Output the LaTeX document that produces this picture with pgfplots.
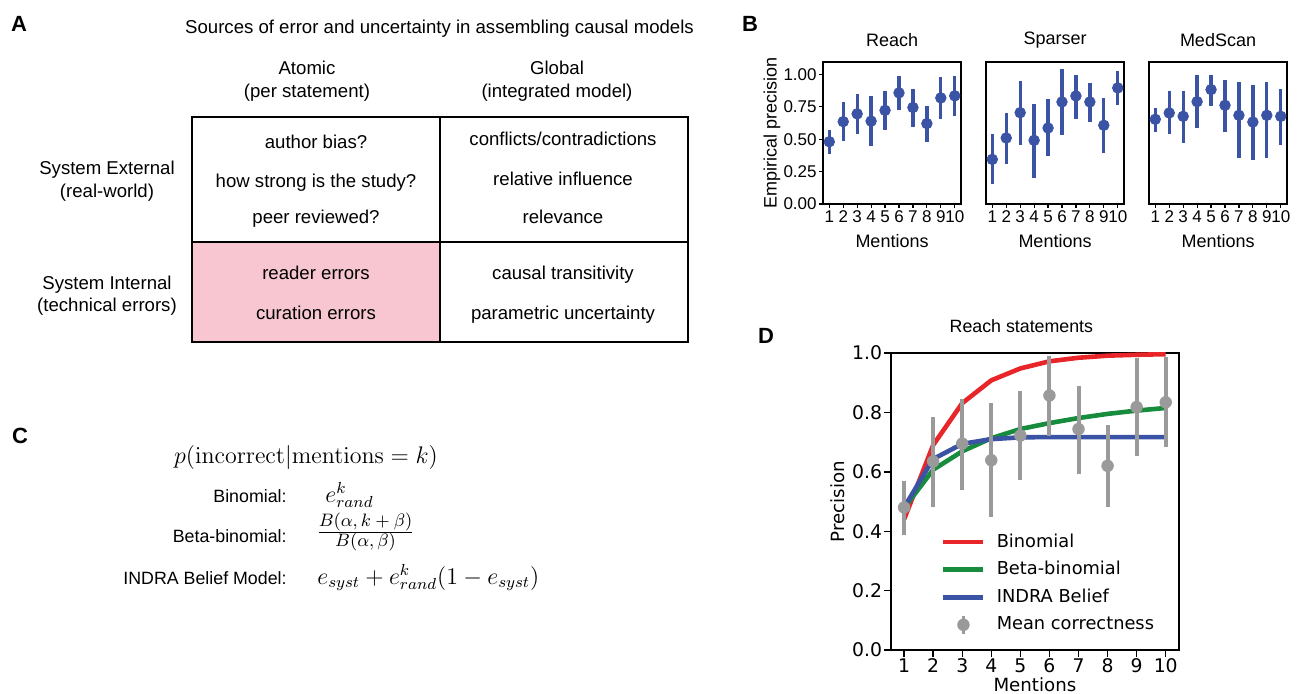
\documentclass[border=0pt]{standalone}
\usepackage[no-math]{fontspec}
\setmainfont{Liberation Sans}
\newfontfamily\djv{DejaVu Sans}
\usepackage{pgfplots}
\usepackage{pgfplotstable}
\pgfplotsset{compat=1.18}

\definecolor{dotblue}{HTML}{3A53A4}
\definecolor{binred}{HTML}{E8262A}
\definecolor{betagreen}{HTML}{178C3D}
\definecolor{meangray}{HTML}{9A9A9A}
\definecolor{cellpink}{HTML}{F7C6D0}

% mentions, mean precision, lower and upper end of the bar
\pgfplotstableread{
m  y     lo    hi
1  0.480 0.388 0.570
2  0.635 0.483 0.784
3  0.695 0.540 0.846
4  0.639 0.447 0.831
5  0.722 0.573 0.871
6  0.857 0.722 0.989
7  0.744 0.593 0.890
8  0.620 0.481 0.758
9  0.818 0.652 0.983
10 0.834 0.682 0.985
}\reachtab

\pgfplotstableread{
m  y     lo    hi
1  0.344 0.157 0.542
2  0.509 0.306 0.704
3  0.704 0.458 0.946
4  0.491 0.200 0.774
5  0.586 0.370 0.807
6  0.787 0.535 1.044
7  0.833 0.658 0.997
8  0.787 0.632 0.936
9  0.607 0.396 0.817
10 0.895 0.766 1.023
}\sparsertab

\pgfplotstableread{
m  y     lo    hi
1  0.653 0.555 0.740
2  0.702 0.542 0.869
3  0.676 0.473 0.869
4  0.789 0.586 0.997
5  0.882 0.753 0.997
6  0.761 0.555 0.959
7  0.684 0.355 0.941
8  0.632 0.337 0.920
9  0.684 0.355 0.941
10 0.676 0.458 0.889
}\medscantab

% model curves of panel D
\pgfplotstableread{
m  binom betab indra
1  0.440 0.478 0.480
2  0.690 0.607 0.643
3  0.831 0.669 0.694
4  0.908 0.713 0.710
5  0.948 0.744 0.716
6  0.972 0.764 0.717
7  0.984 0.781 0.717
8  0.991 0.795 0.717
9  0.994 0.806 0.717
10 0.996 0.815 0.717
}\modeltab

\pgfplotsset{
  /pgf/number format/assume math mode=true,
  bpanel/.style={
    scale only axis, width=69pt, height=71pt, anchor=south west,
    xmin=0.55, xmax=10.45, ymin=0, ymax=1.095,
    xtick={1,...,10}, ytick={0,0.25,0.5,0.75,1},
    tick pos=left, tick align=outside, major tick length=2pt,
    tick style={black, line width=0.6pt},
    axis line style={line width=1pt},
    yticklabel style={/pgf/number format/fixed, /pgf/number format/fixed zerofill,
      /pgf/number format/precision=2},
    ticklabel style={font=\fontsize{8.5}{9}\selectfont, inner sep=1pt},
    xlabel={Mentions},
    every axis x label/.style={at={(axis description cs:0.5,-0.26)}, anchor=center,
      font=\fontsize{9}{10}\selectfont},
    every axis y label/.style={at={(axis description cs:-0.37,0.5)}, rotate=90, anchor=center,
      font=\fontsize{9}{10}\selectfont},
    every axis title/.style={at={(axis description cs:0.5,1.155)}, anchor=center,
      font=\fontsize{9}{10}\selectfont},
  },
  bdots/.style={only marks, mark=*, mark size=2.65pt, color=dotblue,
    error bars/.cd, y dir=both, y explicit, error mark=none,
    error bar style={line width=1.65pt, dotblue}},
}

\begin{document}
\begin{tikzpicture}
\begin{scope}[x=0.5pt, y=-0.5pt]
% ---------- panel A ----------
\node[font=\bfseries\fontsize{11}{12}\selectfont] at (19,24) {A};
\begin{scope}[font=\fontsize{9.3}{11}\selectfont]
\node[anchor=base] at (439.5,34) {Sources of error and uncertainty in assembling causal models};
\node[anchor=base] at (307,74.5) {Atomic};
\node[anchor=base] at (307,97.5) {(per statement)};
\node[anchor=base] at (557,74.5) {Global};
\node[anchor=base] at (557,97.5) {(integrated model)};
\fill[cellpink] (192,242) rectangle (440,342);
\draw[line width=1.2pt] (192,117) rectangle (688,342);
\draw[line width=1.2pt] (440,117) -- (440,342) (192,242) -- (688,242);
\node[anchor=base] at (316,148.5) {author bias?};
\node[anchor=base] at (316,187.5) {how strong is the study?};
\node[anchor=base] at (316,223.5) {peer reviewed?};
\node[anchor=base] at (563,145.5) {conflicts/contradictions};
\node[anchor=base] at (563,185.5) {relative influence};
\node[anchor=base] at (563,223.5) {relevance};
\node[anchor=base] at (316,279.5) {reader errors};
\node[anchor=base] at (316,319.5) {curation errors};
\node[anchor=base] at (563,279.5) {causal transitivity};
\node[anchor=base] at (563,319.5) {parametric uncertainty};
\node[anchor=base] at (107,174.5) {System External};
\node[anchor=base] at (107,197.5) {(real-world)};
\node[anchor=base] at (107,289.5) {System Internal};
\node[anchor=base] at (107,311.5) {(technical errors)};
\end{scope}
% ---------- panel C ----------
\node[font=\bfseries\fontsize{11}{12}\selectfont] at (20,436) {C};
\node[anchor=base, font=\fontsize{12.3}{14}\selectfont] at (306,463)
  {$p(\mathrm{incorrect}|\mathrm{mentions}=k)$};
\begin{scope}[font=\fontsize{8.9}{11}\selectfont, inner sep=0pt]
\node[anchor=base east] at (287,502) {Binomial:};
\node[anchor=base east] at (287,542) {Beta-binomial:};
\node[anchor=base east] at (287,584) {INDRA Belief Model:};
\end{scope}
\begin{scope}[font=\fontsize{12}{14}\selectfont]
\node[anchor=base west, inner sep=0pt] at (325,502) {$e^{k}_{rand}$};
\node[anchor=base west, inner sep=0pt] at (317,584) {$e_{syst}+e^{k}_{rand}(1-e_{syst})$};
\end{scope}
\node[anchor=west, inner sep=0pt, font=\fontsize{8.6}{10}\selectfont] at (316,532)
  {$\frac{\textstyle B(\alpha,k+\beta)}{\textstyle B(\alpha,\beta)}$};
% panel letters B and D
\node[font=\bfseries\fontsize{11}{12}\selectfont] at (750,23.5) {B};
\node[font=\bfseries\fontsize{11}{12}\selectfont] at (766,336) {D};
\end{scope}

% ---------- panel B ----------
\begin{axis}[bpanel, at={(411.5pt,-102pt)}, title={Reach}, ylabel={Empirical precision}]
\addplot[bdots] table[x=m, y=y, y error plus expr=\thisrow{hi}-\thisrow{y},
  y error minus expr=\thisrow{y}-\thisrow{lo}] {\reachtab};
\end{axis}
\begin{axis}[bpanel, at={(493pt,-102pt)}, title={Sparser}, ytick=\empty]
\addplot[bdots] table[x=m, y=y, y error plus expr=\thisrow{hi}-\thisrow{y},
  y error minus expr=\thisrow{y}-\thisrow{lo}] {\sparsertab};
\end{axis}
\begin{axis}[bpanel, at={(574.5pt,-102pt)}, title={MedScan}, ytick=\empty]
\addplot[bdots] table[x=m, y=y, y error plus expr=\thisrow{hi}-\thisrow{y},
  y error minus expr=\thisrow{y}-\thisrow{lo}] {\medscantab};
\end{axis}

% ---------- panel D ----------
\begin{axis}[
  scale only axis, width=143.9pt, height=148.5pt,
  at={(445.5pt,-325pt)}, anchor=south west,
  xmin=0.55, xmax=10.45, ymin=0, ymax=1,
  xtick={1,...,10}, ytick={0,0.2,0.4,0.6,0.8,1},
  yticklabel style={/pgf/number format/fixed, /pgf/number format/fixed zerofill,
    /pgf/number format/precision=1},
  tick pos=left, tick align=outside, major tick length=3.3pt,
  tick style={black, line width=0.7pt},
  axis line style={line width=1pt},
  ticklabel style={font=\djv\fontsize{9.4}{10}\selectfont, inner sep=1pt},
  title={Reach statements},
  every axis title/.style={at={(axis description cs:0.453,1.091)}, anchor=center,
    font=\fontsize{8.9}{10}\selectfont},
  xlabel={Mentions}, ylabel={Precision},
  every axis x label/.style={at={(axis description cs:0.5,-0.118)}, anchor=center,
    font=\djv\fontsize{9.1}{10}\selectfont},
  every axis y label/.style={at={(axis description cs:-0.186,0.5)}, rotate=90, anchor=center,
    font=\djv\fontsize{9.1}{10}\selectfont},
  legend image code/.code={\draw[#1] (0pt,0pt) -- (20pt,0pt);},
  legend style={draw=none, fill=none, at={(axis description cs:0.152,0.42)},
    anchor=north west, font=\djv\fontsize{8.9}{10}\selectfont,
    row sep=1.6pt, column sep=3.5pt},
  legend cell align=left,
]
\addplot[binred, line width=2.3pt] table[x=m, y=binom] {\modeltab};
\addlegendentry{Binomial}
\addplot[betagreen, line width=2.3pt] table[x=m, y=betab] {\modeltab};
\addlegendentry{Beta-binomial}
\addplot[dotblue, line width=2.3pt] table[x=m, y=indra] {\modeltab};
\addlegendentry{INDRA Belief}
\addplot[only marks, mark=*, mark size=2.9pt, color=meangray,
  legend image code/.code={\path[draw=none, fill=none] (0pt,-0.1pt) rectangle (20pt,0.1pt);
    \draw[meangray, line width=1.5pt] (10pt,-4.5pt) -- (10pt,4.5pt);
    \fill[meangray] (10pt,0pt) circle (2.9pt);},
  error bars/.cd, y dir=both, y explicit, error mark=none,
  error bar style={line width=2pt, meangray}]
  table[x=m, y=y, y error plus expr=\thisrow{hi}-\thisrow{y},
    y error minus expr=\thisrow{y}-\thisrow{lo}] {\reachtab};
\addlegendentry{Mean correctness}
\end{axis}

\pgfresetboundingbox
\useasboundingbox (0pt,0pt) rectangle (649.5pt,-347pt);
\end{tikzpicture}
\end{document}
